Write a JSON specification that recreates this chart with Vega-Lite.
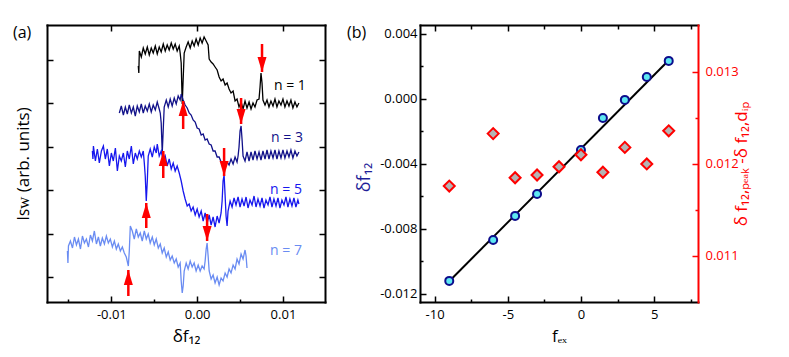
{
"$schema": "https://vega.github.io/schema/vega-lite/v6.json",
"background": "white",
"padding": {"left": 13, "top": 24, "right": 2, "bottom": 2},
"spacing": 21,
"config": {
  "view": {"stroke": null},
  "font": "Open Sans",
  "axis": {"labelFont": "Open Sans", "labelFontSize": 13, "labelColor": "black", "titleFont": "Open Sans", "titleFontSize": 17, "titleFontWeight": "normal", "titleColor": "black", "tickColor": "black", "tickWidth": 1.5, "domainColor": "black", "domainWidth": 2, "domainCap": "square", "grid": false, "labelOverlap": false, "labelFlush": false, "labelBound": false},
  "title": {"font": "Open Sans", "fontSize": 16, "fontWeight": "normal", "color": "black"}
},
"datasets": {
  "traces": [
    {"n":"n = 1","x":-0.00686,"y":211},{"n":"n = 1","x":-0.00680,"y":204},{"n":"n = 1","x":-0.00674,"y":226},{"n":"n = 1","x":-0.00651,"y":220},{"n":"n = 1","x":-0.00628,"y":229},{"n":"n = 1","x":-0.00605,"y":223},{"n":"n = 1","x":-0.00581,"y":230},{"n":"n = 1","x":-0.00558,"y":222},{"n":"n = 1","x":-0.00535,"y":229},{"n":"n = 1","x":-0.00512,"y":224},{"n":"n = 1","x":-0.00488,"y":231},{"n":"n = 1","x":-0.00465,"y":223},{"n":"n = 1","x":-0.00442,"y":230},{"n":"n = 1","x":-0.00419,"y":225},{"n":"n = 1","x":-0.00395,"y":233},{"n":"n = 1","x":-0.00372,"y":226},{"n":"n = 1","x":-0.00349,"y":232},{"n":"n = 1","x":-0.00326,"y":227},{"n":"n = 1","x":-0.00302,"y":234},{"n":"n = 1","x":-0.00279,"y":228},{"n":"n = 1","x":-0.00256,"y":233},{"n":"n = 1","x":-0.00233,"y":226},{"n":"n = 1","x":-0.00209,"y":231},{"n":"n = 1","x":-0.00198,"y":224},{"n":"n = 1","x":-0.00186,"y":214},{"n":"n = 1","x":-0.00174,"y":173},{"n":"n = 1","x":-0.00163,"y":198},{"n":"n = 1","x":-0.00151,"y":224},{"n":"n = 1","x":-0.00128,"y":230},{"n":"n = 1","x":-0.00105,"y":235},{"n":"n = 1","x":-0.00081,"y":229},{"n":"n = 1","x":-0.00058,"y":236},{"n":"n = 1","x":-0.00035,"y":231},{"n":"n = 1","x":-0.00012,"y":238},{"n":"n = 1","x":0.00012,"y":232},{"n":"n = 1","x":0.00035,"y":239},{"n":"n = 1","x":0.00058,"y":234},{"n":"n = 1","x":0.00081,"y":240},{"n":"n = 1","x":0.00105,"y":236},{"n":"n = 1","x":0.00128,"y":232},{"n":"n = 1","x":0.00140,"y":218},{"n":"n = 1","x":0.00163,"y":215},{"n":"n = 1","x":0.00186,"y":213},{"n":"n = 1","x":0.00209,"y":210},{"n":"n = 1","x":0.00233,"y":207},{"n":"n = 1","x":0.00256,"y":200},{"n":"n = 1","x":0.00279,"y":196},{"n":"n = 1","x":0.00302,"y":198},{"n":"n = 1","x":0.00326,"y":192},{"n":"n = 1","x":0.00349,"y":194},{"n":"n = 1","x":0.00372,"y":188},{"n":"n = 1","x":0.00395,"y":184},{"n":"n = 1","x":0.00419,"y":186},{"n":"n = 1","x":0.00442,"y":176},{"n":"n = 1","x":0.00465,"y":178},{"n":"n = 1","x":0.00488,"y":170},{"n":"n = 1","x":0.00512,"y":175},{"n":"n = 1","x":0.00535,"y":168},{"n":"n = 1","x":0.00558,"y":176},{"n":"n = 1","x":0.00581,"y":169},{"n":"n = 1","x":0.00605,"y":175},{"n":"n = 1","x":0.00628,"y":168},{"n":"n = 1","x":0.00651,"y":174},{"n":"n = 1","x":0.00674,"y":170},{"n":"n = 1","x":0.00698,"y":177},{"n":"n = 1","x":0.00721,"y":178},{"n":"n = 1","x":0.00733,"y":190},{"n":"n = 1","x":0.00744,"y":204},{"n":"n = 1","x":0.00756,"y":194},{"n":"n = 1","x":0.00767,"y":177},{"n":"n = 1","x":0.00791,"y":172},{"n":"n = 1","x":0.00814,"y":177},{"n":"n = 1","x":0.00837,"y":170},{"n":"n = 1","x":0.00860,"y":176},{"n":"n = 1","x":0.00884,"y":171},{"n":"n = 1","x":0.00907,"y":178},{"n":"n = 1","x":0.00930,"y":170},{"n":"n = 1","x":0.00953,"y":176},{"n":"n = 1","x":0.00977,"y":172},{"n":"n = 1","x":0.01000,"y":178},{"n":"n = 1","x":0.01023,"y":170},{"n":"n = 1","x":0.01047,"y":176},{"n":"n = 1","x":0.01070,"y":171},{"n":"n = 1","x":0.01093,"y":177},{"n":"n = 1","x":0.01116,"y":169},{"n":"n = 1","x":0.01140,"y":175},{"n":"n = 1","x":0.01163,"y":170},{"n":"n = 1","x":0.01186,"y":174},
    {"n":"n = 3","x":-0.00907,"y":164},{"n":"n = 3","x":-0.00884,"y":171},{"n":"n = 3","x":-0.00860,"y":162},{"n":"n = 3","x":-0.00837,"y":170},{"n":"n = 3","x":-0.00814,"y":163},{"n":"n = 3","x":-0.00791,"y":172},{"n":"n = 3","x":-0.00767,"y":164},{"n":"n = 3","x":-0.00744,"y":170},{"n":"n = 3","x":-0.00721,"y":161},{"n":"n = 3","x":-0.00698,"y":171},{"n":"n = 3","x":-0.00674,"y":165},{"n":"n = 3","x":-0.00651,"y":173},{"n":"n = 3","x":-0.00628,"y":164},{"n":"n = 3","x":-0.00605,"y":171},{"n":"n = 3","x":-0.00581,"y":166},{"n":"n = 3","x":-0.00558,"y":173},{"n":"n = 3","x":-0.00535,"y":165},{"n":"n = 3","x":-0.00512,"y":172},{"n":"n = 3","x":-0.00488,"y":167},{"n":"n = 3","x":-0.00465,"y":175},{"n":"n = 3","x":-0.00442,"y":168},{"n":"n = 3","x":-0.00430,"y":164},{"n":"n = 3","x":-0.00419,"y":154},{"n":"n = 3","x":-0.00407,"y":124},{"n":"n = 3","x":-0.00395,"y":148},{"n":"n = 3","x":-0.00384,"y":170},{"n":"n = 3","x":-0.00360,"y":177},{"n":"n = 3","x":-0.00337,"y":170},{"n":"n = 3","x":-0.00314,"y":178},{"n":"n = 3","x":-0.00291,"y":171},{"n":"n = 3","x":-0.00267,"y":179},{"n":"n = 3","x":-0.00244,"y":173},{"n":"n = 3","x":-0.00221,"y":181},{"n":"n = 3","x":-0.00198,"y":177},{"n":"n = 3","x":-0.00186,"y":183},{"n":"n = 3","x":-0.00163,"y":177},{"n":"n = 3","x":-0.00140,"y":172},{"n":"n = 3","x":-0.00116,"y":169},{"n":"n = 3","x":-0.00093,"y":164},{"n":"n = 3","x":-0.00070,"y":162},{"n":"n = 3","x":-0.00047,"y":157},{"n":"n = 3","x":-0.00023,"y":155},{"n":"n = 3","x":0.0,"y":149},{"n":"n = 3","x":0.00023,"y":148},{"n":"n = 3","x":0.00047,"y":142},{"n":"n = 3","x":0.00070,"y":143},{"n":"n = 3","x":0.00093,"y":137},{"n":"n = 3","x":0.00116,"y":138},{"n":"n = 3","x":0.00140,"y":133},{"n":"n = 3","x":0.00163,"y":132},{"n":"n = 3","x":0.00186,"y":126},{"n":"n = 3","x":0.00209,"y":126},{"n":"n = 3","x":0.00233,"y":120},{"n":"n = 3","x":0.00256,"y":120},{"n":"n = 3","x":0.00279,"y":115},{"n":"n = 3","x":0.00302,"y":114},{"n":"n = 3","x":0.00314,"y":106},{"n":"n = 3","x":0.00326,"y":112},{"n":"n = 3","x":0.00349,"y":115},{"n":"n = 3","x":0.00372,"y":112},{"n":"n = 3","x":0.00395,"y":118},{"n":"n = 3","x":0.00419,"y":113},{"n":"n = 3","x":0.00442,"y":120},{"n":"n = 3","x":0.00465,"y":115},{"n":"n = 3","x":0.00477,"y":121},{"n":"n = 3","x":0.00488,"y":130},{"n":"n = 3","x":0.00500,"y":146},{"n":"n = 3","x":0.00512,"y":151},{"n":"n = 3","x":0.00523,"y":138},{"n":"n = 3","x":0.00535,"y":121},{"n":"n = 3","x":0.00558,"y":116},{"n":"n = 3","x":0.00581,"y":125},{"n":"n = 3","x":0.00605,"y":116},{"n":"n = 3","x":0.00628,"y":125},{"n":"n = 3","x":0.00651,"y":117},{"n":"n = 3","x":0.00674,"y":126},{"n":"n = 3","x":0.00698,"y":118},{"n":"n = 3","x":0.00721,"y":125},{"n":"n = 3","x":0.00744,"y":117},{"n":"n = 3","x":0.00767,"y":126},{"n":"n = 3","x":0.00791,"y":118},{"n":"n = 3","x":0.00814,"y":127},{"n":"n = 3","x":0.00837,"y":118},{"n":"n = 3","x":0.00860,"y":126},{"n":"n = 3","x":0.00884,"y":119},{"n":"n = 3","x":0.00907,"y":127},{"n":"n = 3","x":0.00930,"y":118},{"n":"n = 3","x":0.00953,"y":126},{"n":"n = 3","x":0.00977,"y":119},{"n":"n = 3","x":0.01000,"y":127},{"n":"n = 3","x":0.01023,"y":119},{"n":"n = 3","x":0.01047,"y":126},{"n":"n = 3","x":0.01070,"y":120},{"n":"n = 3","x":0.01093,"y":127},{"n":"n = 3","x":0.01116,"y":119},{"n":"n = 3","x":0.01140,"y":126},{"n":"n = 3","x":0.01163,"y":121},{"n":"n = 3","x":0.01186,"y":125},
    {"n":"n = 5","x":-0.01221,"y":126},{"n":"n = 5","x":-0.01215,"y":118},{"n":"n = 5","x":-0.01209,"y":131},{"n":"n = 5","x":-0.01186,"y":116},{"n":"n = 5","x":-0.01163,"y":128},{"n":"n = 5","x":-0.01140,"y":114},{"n":"n = 5","x":-0.01116,"y":126},{"n":"n = 5","x":-0.01093,"y":131},{"n":"n = 5","x":-0.01070,"y":118},{"n":"n = 5","x":-0.01047,"y":128},{"n":"n = 5","x":-0.01023,"y":111},{"n":"n = 5","x":-0.01000,"y":124},{"n":"n = 5","x":-0.00977,"y":116},{"n":"n = 5","x":-0.00953,"y":129},{"n":"n = 5","x":-0.00930,"y":106},{"n":"n = 5","x":-0.00907,"y":121},{"n":"n = 5","x":-0.00884,"y":116},{"n":"n = 5","x":-0.00860,"y":124},{"n":"n = 5","x":-0.00837,"y":110},{"n":"n = 5","x":-0.00814,"y":126},{"n":"n = 5","x":-0.00791,"y":118},{"n":"n = 5","x":-0.00767,"y":131},{"n":"n = 5","x":-0.00744,"y":113},{"n":"n = 5","x":-0.00721,"y":124},{"n":"n = 5","x":-0.00698,"y":118},{"n":"n = 5","x":-0.00674,"y":126},{"n":"n = 5","x":-0.00651,"y":120},{"n":"n = 5","x":-0.00628,"y":126},{"n":"n = 5","x":-0.00616,"y":114},{"n":"n = 5","x":-0.00605,"y":101},{"n":"n = 5","x":-0.00593,"y":76},{"n":"n = 5","x":-0.00581,"y":96},{"n":"n = 5","x":-0.00570,"y":121},{"n":"n = 5","x":-0.00547,"y":128},{"n":"n = 5","x":-0.00523,"y":120},{"n":"n = 5","x":-0.00500,"y":130},{"n":"n = 5","x":-0.00477,"y":124},{"n":"n = 5","x":-0.00465,"y":133},{"n":"n = 5","x":-0.00442,"y":121},{"n":"n = 5","x":-0.00419,"y":126},{"n":"n = 5","x":-0.00395,"y":116},{"n":"n = 5","x":-0.00372,"y":121},{"n":"n = 5","x":-0.00349,"y":111},{"n":"n = 5","x":-0.00326,"y":118},{"n":"n = 5","x":-0.00302,"y":108},{"n":"n = 5","x":-0.00279,"y":114},{"n":"n = 5","x":-0.00256,"y":106},{"n":"n = 5","x":-0.00233,"y":111},{"n":"n = 5","x":-0.00209,"y":104},{"n":"n = 5","x":-0.00186,"y":96},{"n":"n = 5","x":-0.00163,"y":86},{"n":"n = 5","x":-0.00140,"y":78},{"n":"n = 5","x":-0.00116,"y":71},{"n":"n = 5","x":-0.00093,"y":73},{"n":"n = 5","x":-0.00070,"y":66},{"n":"n = 5","x":-0.00047,"y":70},{"n":"n = 5","x":-0.00023,"y":62},{"n":"n = 5","x":0.0,"y":68},{"n":"n = 5","x":0.00023,"y":60},{"n":"n = 5","x":0.00047,"y":66},{"n":"n = 5","x":0.00070,"y":56},{"n":"n = 5","x":0.00093,"y":64},{"n":"n = 5","x":0.00116,"y":54},{"n":"n = 5","x":0.00140,"y":62},{"n":"n = 5","x":0.00163,"y":52},{"n":"n = 5","x":0.00186,"y":60},{"n":"n = 5","x":0.00209,"y":50},{"n":"n = 5","x":0.00233,"y":61},{"n":"n = 5","x":0.00256,"y":54},{"n":"n = 5","x":0.00279,"y":64},{"n":"n = 5","x":0.00291,"y":76},{"n":"n = 5","x":0.00302,"y":96},{"n":"n = 5","x":0.00314,"y":102},{"n":"n = 5","x":0.00326,"y":81},{"n":"n = 5","x":0.00337,"y":61},{"n":"n = 5","x":0.00349,"y":51},{"n":"n = 5","x":0.00360,"y":66},{"n":"n = 5","x":0.00384,"y":76},{"n":"n = 5","x":0.00407,"y":70},{"n":"n = 5","x":0.00430,"y":79},{"n":"n = 5","x":0.00453,"y":72},{"n":"n = 5","x":0.00477,"y":80},{"n":"n = 5","x":0.00500,"y":70},{"n":"n = 5","x":0.00523,"y":78},{"n":"n = 5","x":0.00547,"y":71},{"n":"n = 5","x":0.00570,"y":80},{"n":"n = 5","x":0.00593,"y":69},{"n":"n = 5","x":0.00616,"y":77},{"n":"n = 5","x":0.00640,"y":72},{"n":"n = 5","x":0.00663,"y":81},{"n":"n = 5","x":0.00686,"y":70},{"n":"n = 5","x":0.00709,"y":78},{"n":"n = 5","x":0.00733,"y":71},{"n":"n = 5","x":0.00756,"y":79},{"n":"n = 5","x":0.00779,"y":69},{"n":"n = 5","x":0.00802,"y":77},{"n":"n = 5","x":0.00826,"y":72},{"n":"n = 5","x":0.00849,"y":80},{"n":"n = 5","x":0.00872,"y":70},{"n":"n = 5","x":0.00895,"y":78},{"n":"n = 5","x":0.00919,"y":71},{"n":"n = 5","x":0.00942,"y":79},{"n":"n = 5","x":0.00965,"y":69},{"n":"n = 5","x":0.00988,"y":77},{"n":"n = 5","x":0.01012,"y":72},{"n":"n = 5","x":0.01035,"y":80},{"n":"n = 5","x":0.01058,"y":70},{"n":"n = 5","x":0.01081,"y":78},{"n":"n = 5","x":0.01105,"y":71},{"n":"n = 5","x":0.01128,"y":79},{"n":"n = 5","x":0.01151,"y":70},{"n":"n = 5","x":0.01174,"y":77},{"n":"n = 5","x":0.01186,"y":73},
    {"n":"n = 7","x":-0.01512,"y":26},{"n":"n = 7","x":-0.01506,"y":14},{"n":"n = 7","x":-0.01500,"y":31},{"n":"n = 7","x":-0.01477,"y":36},{"n":"n = 7","x":-0.01453,"y":29},{"n":"n = 7","x":-0.01430,"y":40},{"n":"n = 7","x":-0.01407,"y":32},{"n":"n = 7","x":-0.01384,"y":38},{"n":"n = 7","x":-0.01360,"y":28},{"n":"n = 7","x":-0.01337,"y":41},{"n":"n = 7","x":-0.01314,"y":34},{"n":"n = 7","x":-0.01291,"y":38},{"n":"n = 7","x":-0.01267,"y":30},{"n":"n = 7","x":-0.01244,"y":42},{"n":"n = 7","x":-0.01221,"y":36},{"n":"n = 7","x":-0.01198,"y":46},{"n":"n = 7","x":-0.01174,"y":33},{"n":"n = 7","x":-0.01151,"y":40},{"n":"n = 7","x":-0.01128,"y":31},{"n":"n = 7","x":-0.01105,"y":39},{"n":"n = 7","x":-0.01081,"y":33},{"n":"n = 7","x":-0.01058,"y":41},{"n":"n = 7","x":-0.01035,"y":34},{"n":"n = 7","x":-0.01012,"y":38},{"n":"n = 7","x":-0.00988,"y":30},{"n":"n = 7","x":-0.00965,"y":36},{"n":"n = 7","x":-0.00942,"y":28},{"n":"n = 7","x":-0.00919,"y":33},{"n":"n = 7","x":-0.00895,"y":26},{"n":"n = 7","x":-0.00872,"y":30},{"n":"n = 7","x":-0.00849,"y":24},{"n":"n = 7","x":-0.00826,"y":20},{"n":"n = 7","x":-0.00802,"y":11},{"n":"n = 7","x":-0.00791,"y":26},{"n":"n = 7","x":-0.00779,"y":51},{"n":"n = 7","x":-0.00756,"y":46},{"n":"n = 7","x":-0.00733,"y":38},{"n":"n = 7","x":-0.00709,"y":48},{"n":"n = 7","x":-0.00686,"y":40},{"n":"n = 7","x":-0.00663,"y":44},{"n":"n = 7","x":-0.00640,"y":36},{"n":"n = 7","x":-0.00616,"y":46},{"n":"n = 7","x":-0.00593,"y":38},{"n":"n = 7","x":-0.00570,"y":43},{"n":"n = 7","x":-0.00547,"y":34},{"n":"n = 7","x":-0.00523,"y":40},{"n":"n = 7","x":-0.00500,"y":32},{"n":"n = 7","x":-0.00477,"y":38},{"n":"n = 7","x":-0.00453,"y":29},{"n":"n = 7","x":-0.00430,"y":33},{"n":"n = 7","x":-0.00407,"y":24},{"n":"n = 7","x":-0.00384,"y":29},{"n":"n = 7","x":-0.00360,"y":20},{"n":"n = 7","x":-0.00337,"y":25},{"n":"n = 7","x":-0.00314,"y":17},{"n":"n = 7","x":-0.00291,"y":21},{"n":"n = 7","x":-0.00267,"y":14},{"n":"n = 7","x":-0.00244,"y":18},{"n":"n = 7","x":-0.00221,"y":10},{"n":"n = 7","x":-0.00198,"y":14},{"n":"n = 7","x":-0.00186,"y":-4},{"n":"n = 7","x":-0.00174,"y":-16},{"n":"n = 7","x":-0.00163,"y":-9},{"n":"n = 7","x":-0.00151,"y":6},{"n":"n = 7","x":-0.00128,"y":14},{"n":"n = 7","x":-0.00105,"y":8},{"n":"n = 7","x":-0.00081,"y":16},{"n":"n = 7","x":-0.00058,"y":10},{"n":"n = 7","x":-0.00035,"y":14},{"n":"n = 7","x":-0.00012,"y":6},{"n":"n = 7","x":0.00012,"y":12},{"n":"n = 7","x":0.00035,"y":6},{"n":"n = 7","x":0.00058,"y":11},{"n":"n = 7","x":0.00081,"y":8},{"n":"n = 7","x":0.00093,"y":16},{"n":"n = 7","x":0.00105,"y":28},{"n":"n = 7","x":0.00116,"y":34},{"n":"n = 7","x":0.00128,"y":21},{"n":"n = 7","x":0.00140,"y":6},{"n":"n = 7","x":0.00163,"y":-2},{"n":"n = 7","x":0.00186,"y":2},{"n":"n = 7","x":0.00209,"y":-6},{"n":"n = 7","x":0.00233,"y":0},{"n":"n = 7","x":0.00256,"y":-8},{"n":"n = 7","x":0.00279,"y":-1},{"n":"n = 7","x":0.00302,"y":-4},{"n":"n = 7","x":0.00326,"y":4},{"n":"n = 7","x":0.00349,"y":0},{"n":"n = 7","x":0.00372,"y":8},{"n":"n = 7","x":0.00395,"y":4},{"n":"n = 7","x":0.00419,"y":12},{"n":"n = 7","x":0.00442,"y":8},{"n":"n = 7","x":0.00465,"y":18},{"n":"n = 7","x":0.00488,"y":13},{"n":"n = 7","x":0.00512,"y":23},{"n":"n = 7","x":0.00535,"y":18},{"n":"n = 7","x":0.00558,"y":27},{"n":"n = 7","x":0.00570,"y":21},{"n":"n = 7","x":0.00581,"y":9}
  ],
  "labels": [
    {"n":"n = 1","x":0.01081,"y":191},
    {"n":"n = 3","x":0.01047,"y":139},
    {"n":"n = 5","x":0.01035,"y":87},
    {"n":"n = 7","x":0.01035,"y":26}
  ],
  "arrows": [
    {"x":0.00756,"tail":233,"tip":205,"dir":"down"},
    {"x":0.00512,"tail":179,"tip":153,"dir":"down"},
    {"x":-0.00163,"tail":148,"tip":176,"dir":"up"},
    {"x":-0.00395,"tail":99,"tip":126,"dir":"up"},
    {"x":0.00314,"tail":129,"tip":101,"dir":"down"},
    {"x":-0.00593,"tail":49,"tip":74,"dir":"up"},
    {"x":0.00116,"tail":63,"tip":36,"dir":"down"},
    {"x":-0.00802,"tail":-19,"tip":7,"dir":"up"}
  ],
  "fex": [
    {"f":-9,"v":-0.0112},{"f":-6,"v":-0.00868},{"f":-4.5,"v":-0.0072},{"f":-3,"v":-0.00585},{"f":0,"v":-0.00314},{"f":1.5,"v":-0.00117},{"f":3,"v":-0.00006},{"f":4.5,"v":0.00135},{"f":6,"v":0.00234}
  ],
  "fit": [
    {"f":-9,"v":-0.01122},{"f":6,"v":0.00238}
  ],
  "diff": [
    {"f":-9,"d":0.01176},{"f":-6,"d":0.01233},{"f":-4.5,"d":0.01185},{"f":-3,"d":0.01188},{"f":-1.5,"d":0.01197},{"f":0,"d":0.0121},{"f":1.5,"d":0.01191},{"f":3,"d":0.01218},{"f":4.5,"d":0.0120},{"f":6,"d":0.01236}
  ]
},
"hconcat": [
  {
    "width": 278, "height": 277,
    "title": {"text": "(a)", "anchor": "start", "frame": "group", "baseline": "top", "offset": -17, "dx": -34},
    "layer": [
      {
        "data": {"name": "traces"},
        "mark": {"type": "line", "strokeWidth": 1.3},
        "encoding": {
          "x": {"field": "x", "type": "quantitative", "scale": {"domain": [-0.0175, 0.0149], "nice": false, "zero": false},
                "axis": {"orient": "bottom", "values": [-0.015, -0.01, -0.005, 0, 0.005, 0.01], "format": ".2f",
                         "labelExpr": "indexof([-0.01, 0, 0.01], datum.value) >= 0 ? replace(datum.label, '−', '-') : ''",
                         "tickSize": {"condition": {"test": "indexof([-0.01, 0, 0.01], datum.value) >= 0", "value": -6}, "value": -3},
                         "labelPadding": 12, "title": "δf₁₂", "titlePadding": 4}},
          "y": {"field": "y", "type": "quantitative", "scale": {"domain": [-25, 252], "nice": false, "zero": false},
                "axis": {"orient": "left", "values": [0, 43.4, 86.8, 130.2, 173.6, 217], "labels": false, "tickSize": -6,
                         "title": "Iꜱᴡ (arb. units)", "titlePadding": 14}},
          "color": {"field": "n", "type": "nominal", "scale": {"domain": ["n = 1", "n = 3", "n = 5", "n = 7"], "range": ["#000000", "#12128a", "#1717ee", "#6a8cf2"]}, "legend": null}
        }
      },
      {
        "data": {"name": "labels"},
        "mark": {"type": "text", "fontSize": 14, "font": "Open Sans", "align": "center", "baseline": "middle"},
        "encoding": {
          "x": {"field": "x", "type": "quantitative", "scale": {"domain": [-0.0175, 0.0149], "nice": false, "zero": false},
                "axis": {"orient": "top", "values": [-0.01, 0, 0.01], "labels": false, "tickSize": -6, "title": null}},
          "y": {"field": "y", "type": "quantitative", "scale": {"domain": [-25, 252], "nice": false, "zero": false},
                "axis": {"orient": "right", "values": [0, 43.4, 86.8, 130.2, 173.6, 217], "labels": false, "tickSize": -6, "title": null}},
          "text": {"field": "n"},
          "color": {"field": "n", "type": "nominal", "legend": null}
        }
      },
      {
        "data": {"name": "arrows"},
        "mark": {"type": "rule", "color": "#ff0000", "strokeWidth": 2.5},
        "encoding": {
          "x": {"field": "x", "type": "quantitative", "axis": null},
          "y": {"field": "tail", "type": "quantitative", "axis": null},
          "y2": {"field": "tip"}
        }
      },
      {
        "data": {"name": "arrows"},
        "mark": {"type": "point", "filled": true, "color": "#ff0000", "size": 225, "opacity": 1, "strokeWidth": 0},
        "encoding": {
          "x": {"field": "x", "type": "quantitative", "axis": null},
          "y": {"field": "tip", "type": "quantitative", "axis": null},
          "shape": {"field": "dir", "type": "nominal", "scale": {"domain": ["down", "up"], "range": ["M0,0L-0.6,-2L0.6,-2Z", "M0,0L-0.6,2L0.6,2Z"]}, "legend": null}
        }
      }
    ],
    "resolve": {"axis": {"x": "independent", "y": "independent"}}
  },
  {
    "width": 278, "height": 277,
    "title": {"text": "(b)", "anchor": "start", "frame": "group", "baseline": "top", "offset": -17, "dx": -73},
    "layer": [
      {
        "data": {"name": "fit"},
        "mark": {"type": "line", "color": "black", "strokeWidth": 2},
        "encoding": {
          "x": {"field": "f", "type": "quantitative", "scale": {"domain": [-11, 8], "nice": false, "zero": false},
                "axis": {"orient": "bottom", "values": [-10, -7.5, -5, -2.5, 0, 2.5, 5, 7.5],
                         "labelExpr": "indexof([-10, -5, 0, 5], datum.value) >= 0 ? replace(datum.label, '−', '-') : ''",
                         "tickSize": {"condition": {"test": "indexof([-10, -5, 0, 5], datum.value) >= 0", "value": -6}, "value": -3},
                         "labelPadding": 12, "title": "fₑₓ", "titlePadding": 4}},
          "y": {"field": "v", "type": "quantitative", "scale": {"domain": [-0.0125, 0.00455], "nice": false, "zero": false},
                "axis": {"orient": "left", "values": [-0.012, -0.01, -0.008, -0.006, -0.004, -0.002, 0, 0.002, 0.004], "format": ".3f",
                         "labelExpr": "indexof([-0.012, -0.008, -0.004, 0, 0.004], datum.value) >= 0 ? replace(datum.label, '−', '-') : ''",
                         "tickSize": {"condition": {"test": "indexof([-0.012, -0.008, -0.004, 0, 0.004], datum.value) >= 0", "value": -6}, "value": -3},
                         "labelPadding": 9, "title": "δf₁₂", "titleColor": "#1f1f99", "titleFontSize": 18, "titlePadding": 6, "titleY": 152}}
        }
      },
      {
        "data": {"name": "fex"},
        "mark": {"type": "point", "shape": "circle", "filled": true, "fill": "#5ee8f2", "stroke": "#0d0d8c", "strokeWidth": 2, "size": 64, "opacity": 1},
        "encoding": {
          "x": {"field": "f", "type": "quantitative", "scale": {"domain": [-11, 8], "nice": false, "zero": false},
                "axis": {"orient": "top", "values": [-10, -7.5, -5, -2.5, 0, 2.5, 5, 7.5], "labels": false,
                         "tickSize": {"condition": {"test": "indexof([-10, -5, 0, 5], datum.value) >= 0", "value": -6}, "value": -4}, "title": null}},
          "y": {"field": "v", "type": "quantitative", "scale": {"domain": [-0.0125, 0.00455], "nice": false, "zero": false}, "axis": null}
        }
      },
      {
        "data": {"name": "diff"},
        "mark": {"type": "point", "shape": "diamond", "filled": true, "fill": "#b4b4b4", "stroke": "#ff0000", "strokeWidth": 2, "size": 121, "opacity": 1},
        "encoding": {
          "x": {"field": "f", "type": "quantitative", "scale": {"domain": [-11, 8], "nice": false, "zero": false}, "axis": null},
          "y": {"field": "d", "type": "quantitative", "scale": {"domain": [0.0105, 0.01351], "nice": false, "zero": false},
                "axis": {"orient": "right", "values": [0.011, 0.0115, 0.012, 0.0125, 0.013], "format": ".3f",
                         "labelExpr": "indexof([0.011, 0.012, 0.013], datum.value) >= 0 ? datum.label : ''",
                         "tickSize": {"condition": {"test": "indexof([0.011, 0.012, 0.013], datum.value) >= 0", "value": -6}, "value": -3},
                         "labelPadding": 13, "labelColor": "#ff0000", "tickColor": "#ff0000", "domainColor": "#ff0000",
                         "title": "δ f₁₂,ₚₑₐₖ -δ f₁₂,dᵢₚ", "titleColor": "#ff0000", "titleAngle": 270, "titlePadding": 12}}
        }
      }
    ],
    "resolve": {"scale": {"y": "independent"}, "axis": {"x": "independent", "y": "independent"}}
  }
]
}
